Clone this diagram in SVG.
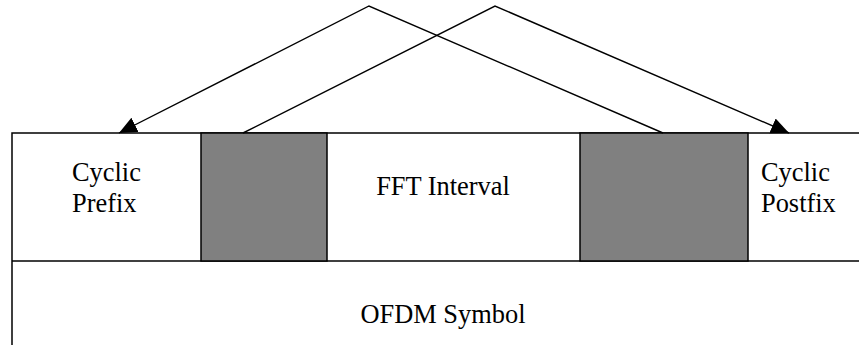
<svg xmlns="http://www.w3.org/2000/svg" width="859" height="345" viewBox="0 0 859 345">
  <style>
    text { font-family: 'Liberation Serif', 'DejaVu Serif', serif; font-size: 26.4px; fill: #000; }
    .ln { stroke: #000; stroke-width: 1.5; fill: none; }
    .guard { fill: #808080; stroke: #000; stroke-width: 1.5; }
    .conn { stroke: #000; stroke-width: 1.4; fill: none; }
  </style>
  <defs>
    <marker id="arrow" markerUnits="userSpaceOnUse" markerWidth="20" markerHeight="18" refX="18" refY="8" orient="auto">
      <path d="M0,0 L18,8 L0,16 z" fill="#000"/>
    </marker>
  </defs>

  <rect width="859" height="345" fill="#fff"/>

  <!-- symbol outline -->
  <g id="frame">
    <path class="ln" d="M12,345 V133 H859"/>
    <path class="ln" d="M12,261 H859" stroke-width="2"/>
  </g>

  <g id="cyclic-prefix">
    <text x="72" y="181" font-family="Liberation Serif, serif">Cyclic</text>
    <text x="72" y="212" font-family="Liberation Serif, serif">Prefix</text>
  </g>

  <g id="guard-left">
    <rect class="guard" x="201" y="133" width="126" height="128"/>
  </g>

  <g id="fft-interval">
    <text x="443" y="195" text-anchor="middle" font-family="Liberation Serif, serif">FFT Interval</text>
  </g>

  <g id="guard-right">
    <rect class="guard" x="580" y="133" width="168" height="128"/>
  </g>

  <g id="cyclic-postfix">
    <text x="761" y="181" font-family="Liberation Serif, serif">Cyclic</text>
    <text x="761" y="212" font-family="Liberation Serif, serif">Postfix</text>
  </g>

  <g id="ofdm-symbol">
    <text x="443" y="323" text-anchor="middle" font-family="Liberation Serif, serif">OFDM Symbol</text>
  </g>

  <!-- copy paths: tail of the interval to the prefix, head of the interval to the postfix -->
  <g id="connectors">
    <polyline class="conn" points="663,133 369,6 119,133" marker-end="url(#arrow)"/>
    <polyline class="conn" points="243,133 495,6 789,133" marker-end="url(#arrow)"/>
  </g>
</svg>
